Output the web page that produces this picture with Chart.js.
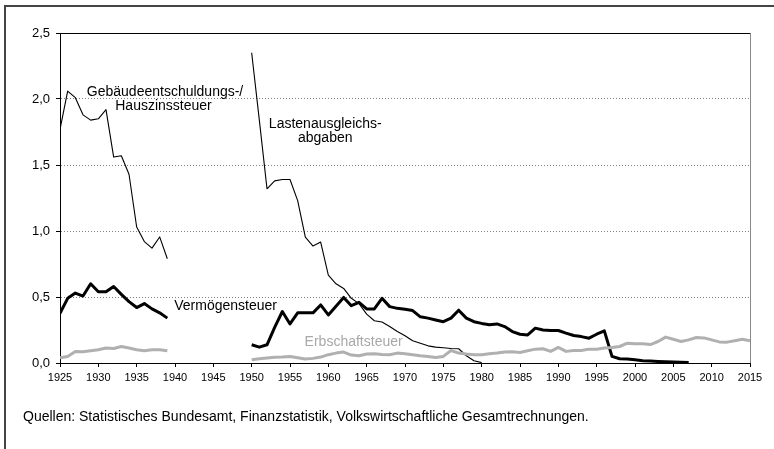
<!DOCTYPE html>
<html>
<head>
<meta charset="utf-8">
<script src="https://cdn.jsdelivr.net/npm/chart.js@4/dist/chart.umd.min.js"></script>
<style>
  html, body { margin: 0; padding: 0; background: #fff; }
  #wrap { position: relative; width: 774px; height: 449px; }
</style>
</head>
<body>
<div id="wrap"><canvas id="c" width="774" height="449"></canvas></div>
<script>
// ---- data (share of GDP, %) ----
const yearsPre = [1925,1926,1927,1928,1929,1930,1931,1932,1933,1934,1935,1936,1937,1938,1939];
const gebaeude = [1.77,2.06,2.01,1.88,1.84,1.85,1.92,1.56,1.57,1.43,1.03,0.92,0.87,0.955,0.79];
const vermoegenPre = [0.377,0.49,0.53,0.507,0.60,0.54,0.54,0.58,0.52,0.465,0.42,0.45,0.41,0.38,0.34];
const erbschaftPre = [0.04,0.05,0.087,0.085,0.093,0.10,0.113,0.11,0.125,0.113,0.10,0.093,0.10,0.10,0.093];

const yearsLag = [1950,1951,1952,1953,1954,1955,1956,1957,1958,1959,1960,1961,1962,1963,1964,1965,1966,1967,1968,1969,1970,1971,1972,1973,1974,1975,1976,1977,1978,1979,1980];
const lastenausgleich = [2.35,1.84,1.32,1.38,1.39,1.39,1.23,0.954,0.886,0.916,0.665,0.60,0.565,0.49,0.45,0.37,0.32,0.31,0.276,0.238,0.206,0.168,0.15,0.13,0.12,0.116,0.11,0.108,0.055,0.017,0.003];

const yearsVerm = [1950,1951,1952,1953,1954,1955,1956,1957,1958,1959,1960,1961,1962,1963,1964,1965,1966,1967,1968,1969,1970,1971,1972,1973,1974,1975,1976,1977,1978,1979,1980,1981,1982,1983,1984,1985,1986,1987,1988,1989,1990,1991,1992,1993,1994,1995,1996,1997,1998,1999,2000,2001,2002,2003,2004,2005,2006,2007];
const vermoegenPost = [0.138,0.12,0.138,0.27,0.39,0.296,0.38,0.38,0.38,0.44,0.364,0.43,0.497,0.434,0.46,0.41,0.41,0.49,0.427,0.414,0.407,0.397,0.35,0.34,0.326,0.313,0.34,0.40,0.34,0.313,0.30,0.29,0.296,0.276,0.238,0.218,0.213,0.264,0.25,0.246,0.246,0.226,0.208,0.20,0.188,0.218,0.243,0.05,0.032,0.03,0.025,0.017,0.015,0.012,0.01,0.007,0.005,0.003];

const yearsErb = [1950,1951,1952,1953,1954,1955,1956,1957,1958,1959,1960,1961,1962,1963,1964,1965,1966,1967,1968,1969,1970,1971,1972,1973,1974,1975,1976,1977,1978,1979,1980,1981,1982,1983,1984,1985,1986,1987,1988,1989,1990,1991,1992,1993,1994,1995,1996,1997,1998,1999,2000,2001,2002,2003,2004,2005,2006,2007,2008,2009,2010,2011,2012,2013,2014,2015];
const erbschaftPost = [0.025,0.032,0.037,0.043,0.045,0.05,0.04,0.03,0.035,0.045,0.063,0.075,0.083,0.06,0.055,0.068,0.07,0.065,0.063,0.075,0.07,0.063,0.055,0.05,0.042,0.05,0.095,0.075,0.068,0.063,0.063,0.07,0.075,0.083,0.085,0.08,0.093,0.105,0.108,0.088,0.118,0.088,0.095,0.095,0.105,0.105,0.113,0.118,0.125,0.15,0.145,0.145,0.14,0.163,0.196,0.18,0.163,0.175,0.193,0.19,0.175,0.16,0.158,0.168,0.18,0.168];

const xMin = 1925, xMax = 2015, xStep = 5;
const yMin = 0, yMax = 2.5, yStep = 0.5;

const labelTexts = ["Gebäudeentschuldungs-/", "Hauszinssteuer", "Lastenausgleichs-", "abgaben", "Vermögensteuer", "Erbschaftsteuer"];
const sourceText = "Quellen: Statistisches Bundesamt, Finanzstatistik, Volkswirtschaftliche Gesamtrechnungen.";

// ---- helpers ----
function pts(xs, ys) { return xs.map((x, i) => ({ x: x, y: ys[i] })); }
function withGap(a, b) { return a.concat([{ x: (a[a.length-1].x + b[0].x) / 2, y: null }], b); }

const FONT = '"Liberation Sans", Arial, sans-serif';

// label anchors in data coordinates (year, value)
const labelAnchors = [
  { t: labelTexts[0], x: 1938.7, y: 2.052, c: '#000' },
  { t: labelTexts[1], x: 1938.5, y: 1.947, c: '#000' },
  { t: labelTexts[2], x: 1959.6, y: 1.813, c: '#000' },
  { t: labelTexts[3], x: 1959.6, y: 1.700, c: '#000' },
  { t: labelTexts[4], x: 1946.6, y: 0.427, c: '#000' },
  { t: labelTexts[5], x: 1963.3, y: 0.155, c: '#a8a8a8' }
];

const decor = {
  id: 'decor',
  beforeDraw(chart) {
    const ctx = chart.ctx;
    ctx.save();
    ctx.fillStyle = '#fff';
    ctx.fillRect(0, 0, chart.width, chart.height);
    // outer frame (left + top)
    ctx.fillStyle = '#444';
    ctx.fillRect(4, 5, 2, chart.height - 5);
    ctx.fillRect(4, 5, chart.width - 4, 2);
    ctx.restore();
  },
  afterDatasetsDraw(chart) {
    const ctx = chart.ctx, a = chart.chartArea;
    const xs = chart.scales.x, ys = chart.scales.y;
    ctx.save();
    // plot frame top & right
    ctx.strokeStyle = '#000';
    ctx.lineWidth = 1;
    ctx.beginPath(); ctx.moveTo(a.left, a.top + 0.5); ctx.lineTo(a.right, a.top + 0.5); ctx.stroke();
    ctx.strokeStyle = '#888';
    ctx.beginPath(); ctx.moveTo(a.right + 0.5, a.top); ctx.lineTo(a.right + 0.5, a.bottom); ctx.stroke();
    // labels
    ctx.font = '14px ' + FONT;
    ctx.textAlign = 'center';
    ctx.textBaseline = 'middle';
    labelAnchors.forEach(l => {
      ctx.fillStyle = l.c;
      ctx.fillText(l.t, xs.getPixelForValue(l.x), ys.getPixelForValue(l.y));
    });
    // source line
    ctx.font = '14px ' + FONT;
    ctx.textAlign = 'left';
    ctx.fillStyle = '#000';
    ctx.fillText(sourceText, 23, 417);
    ctx.restore();
  }
};

const lineBase = { pointRadius: 0, pointHoverRadius: 0, tension: 0, spanGaps: false, borderJoinStyle: 'round', borderCapStyle: 'butt', fill: false };

new Chart(document.getElementById('c'), {
  type: 'line',
  data: {
    datasets: [
      Object.assign({ label: 'Erbschaftsteuer', data: withGap(pts(yearsPre, erbschaftPre), pts(yearsErb, erbschaftPost)), borderColor: '#b0b0b0', borderWidth: 3 }, lineBase),
      Object.assign({ label: 'Gebäudeentschuldungs-/Hauszinssteuer', data: pts(yearsPre, gebaeude), borderColor: '#000', borderWidth: 1.1 }, lineBase),
      Object.assign({ label: 'Lastenausgleichsabgaben', data: pts(yearsLag, lastenausgleich), borderColor: '#000', borderWidth: 1.1 }, lineBase),
      Object.assign({ label: 'Vermögensteuer', data: withGap(pts(yearsPre, vermoegenPre), pts(yearsVerm, vermoegenPost)), borderColor: '#000', borderWidth: 3 }, lineBase)
    ]
  },
  options: {
    responsive: false,
    animation: false,
    devicePixelRatio: 1,
    events: [],
    layout: { padding: { left: 0, top: 33, right: 24, bottom: 0 } },
    plugins: { legend: { display: false }, tooltip: { enabled: false } },
    scales: {
      x: {
        type: 'linear', min: xMin, max: xMax,
        afterFit(s) { s.height = 86; },
        ticks: { stepSize: xStep, autoSkip: false, maxRotation: 0, padding: 4, color: '#000', font: { family: FONT, size: 11 }, callback: v => String(v) },
        grid: { drawOnChartArea: false, drawTicks: true, tickLength: 4, tickColor: '#000', tickWidth: 1 },
        border: { display: true, color: '#000', width: 1 }
      },
      y: {
        type: 'linear', min: yMin, max: yMax,
        afterFit(s) { s.width = 60; },
        ticks: { stepSize: yStep, padding: 6, color: '#000', font: { family: FONT, size: 13 }, callback: v => v.toFixed(1).replace('.', ',') },
        grid: {
          drawOnChartArea: true, drawTicks: true, tickLength: 4, tickColor: '#000', tickWidth: 1,
          color: ctx => (ctx.tick && (ctx.tick.value === yMin || ctx.tick.value === yMax)) ? 'rgba(0,0,0,0)' : '#808080',
          lineWidth: 1
        },
        border: { display: true, color: '#000', width: 1, dash: [1, 2] }
      }
    }
  },
  plugins: [decor]
});
</script>
</body>
</html>
